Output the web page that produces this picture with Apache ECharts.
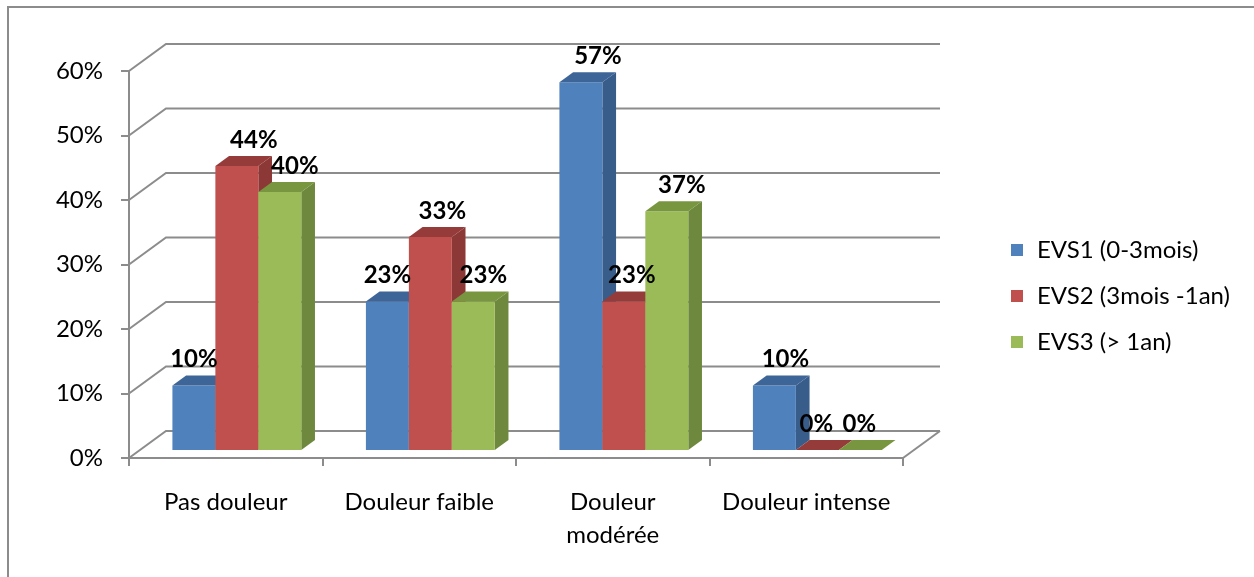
<!DOCTYPE html>
<html>
<head>
<meta charset="utf-8">
<script src="https://cdn.jsdelivr.net/npm/echarts@6/dist/echarts.min.js"></script>
<style>
  html, body { margin: 0; padding: 0; background: #ffffff; }
  #chart { width: 1254px; height: 577px; }
</style>
</head>
<body>
<div id="chart"></div>
<script>
// Pain level categories and the three follow-up periods
const categories = ['Pas douleur', 'Douleur faible', 'Douleur\nmodérée', 'Douleur intense'];
const seriesNames = ['EVS1 (0-3mois)', 'EVS2 (3mois -1an)', 'EVS3 (> 1an)'];
const evs1 = [10, 23, 57, 10];
const evs2 = [44, 33, 23, 0];
const evs3 = [40, 23, 37, 0];
const yTicks = [0, 10, 20, 30, 40, 50, 60];

const values = [evs1, evs2, evs3];

// Oblique 3D look: full depth of the floor, and the slab the columns occupy
const WALL_DX = 37, WALL_DY = -27;
const D0 = 0.30, D1 = 0.67;
const BAR_FRAC = 0.222;

const FONT = 'Lato';
const GRID_COLOR = '#8c8c8c';

// front / side / top face colours per series
const faces = [
  { front: '#4f81bd', side: '#385d8a', top: '#3e6597' },
  { front: '#c0504d', side: '#8c3836', top: '#953b39' },
  { front: '#9bbb59', side: '#6e893e', top: '#789540' }
];

// small horizontal nudges of the value labels, per series and category
const labelShift = [
  [0, 0, 17, 11],
  [17, 12, 8, -1],
  [15, 10, 15, -1]
];

function frameRenderer(params, api) {
  const cs = params.coordSys;
  const left = cs.x, right = cs.x + cs.width;
  const children = [];
  yTicks.forEach(function (v) {
    const y = api.coord([0, v])[1];
    children.push({
      type: 'polyline',
      shape: { points: [[left, y], [left + WALL_DX, y + WALL_DY], [right + WALL_DX, y + WALL_DY]] },
      style: { stroke: GRID_COLOR, lineWidth: 2, fill: null }
    });
  });
  const y0 = api.coord([0, 0])[1];
  children.push({
    type: 'line',
    shape: { x1: right, y1: y0, x2: right + WALL_DX, y2: y0 + WALL_DY },
    style: { stroke: GRID_COLOR, lineWidth: 2 }
  });
  return { type: 'group', children: children };
}

function barRenderer(k) {
  return function (params, api) {
    const cat = api.value(0), val = api.value(1);
    const base = api.coord([cat, 0]);
    const topPt = api.coord([cat, val]);
    const catW = api.size([1, 0])[0];
    const bw = catW * BAR_FRAC;
    const fx = base[0] - 1.5 * bw + k * bw + WALL_DX * D0;
    const fyBottom = base[1] + WALL_DY * D0;
    const fyTop = topPt[1] + WALL_DY * D0;
    const ddx = WALL_DX * (D1 - D0), ddy = WALL_DY * (D1 - D0);
    const c = faces[k];
    const children = [];
    if (val > 0) {
      children.push({
        type: 'polygon', z2: k * 10 + 1,
        shape: { points: [[fx + bw, fyBottom], [fx + bw + ddx, fyBottom + ddy], [fx + bw + ddx, fyTop + ddy], [fx + bw, fyTop]] },
        style: { fill: c.side }
      });
      children.push({
        type: 'rect', z2: k * 10 + 2,
        shape: { x: fx, y: fyTop, width: bw, height: fyBottom - fyTop },
        style: { fill: c.front }
      });
    }
    children.push({
      type: 'polygon', z2: k * 10 + 3,
      shape: { points: [[fx, fyTop], [fx + bw, fyTop], [fx + bw + ddx, fyTop + ddy], [fx + ddx, fyTop + ddy]] },
      style: { fill: c.top }
    });
    children.push({
      type: 'text', z2: 100,
      style: {
        text: val + '%',
        x: fx + bw / 2 + labelShift[k][cat],
        y: fyTop + ddy - 4,
        align: 'center',
        verticalAlign: 'bottom',
        fontFamily: FONT,
        fontWeight: 'bold',
        fontSize: 24,
        fill: '#000000'
      }
    });
    return { type: 'group', children: children };
  };
}

const series = [{
  name: 'frame',
  type: 'custom',
  z: 1,
  silent: true,
  renderItem: frameRenderer,
  data: [[0, 0]]
}];
values.forEach(function (arr, k) {
  series.push({
    name: seriesNames[k],
    type: 'custom',
    z: 2,
    itemStyle: { color: faces[k].front },
    renderItem: barRenderer(k),
    encode: { x: 0, y: 1 },
    data: arr.map(function (v, i) { return [i, v]; })
  });
});

const chart = echarts.init(document.getElementById('chart'), null, { renderer: 'canvas' });
chart.setOption({
  backgroundColor: '#ffffff',
  animation: false,
  graphic: [{
    type: 'rect',
    shape: { x: 8, y: 7, width: 1270, height: 620 },
    style: { fill: null, stroke: '#8c8c8c', lineWidth: 2 },
    silent: true
  }],
  legend: {
    orient: 'vertical',
    left: 1006,
    top: 233,
    icon: 'rect',
    itemWidth: 12,
    itemHeight: 12,
    itemGap: 22,
    data: seriesNames,
    selectedMode: false,
    textStyle: { fontFamily: FONT, fontSize: 24, color: '#000000', padding: [0, 0, 0, 9] }
  },
  grid: { left: 129, top: 71, width: 774, height: 387, containLabel: false },
  xAxis: {
    type: 'category',
    data: categories,
    axisLine: { lineStyle: { color: GRID_COLOR, width: 2 } },
    axisTick: { show: true, length: 8, alignWithLabel: false, lineStyle: { color: GRID_COLOR, width: 2 } },
    axisLabel: { fontFamily: FONT, fontSize: 24, color: '#000000', margin: 28, lineHeight: 33, interval: 0 },
    splitLine: { show: false }
  },
  yAxis: {
    type: 'value',
    min: 0,
    max: 60,
    interval: 10,
    axisLine: { show: true, lineStyle: { color: GRID_COLOR, width: 2 } },
    axisTick: { show: true, length: 8, lineStyle: { color: GRID_COLOR, width: 2 } },
    axisLabel: { fontFamily: FONT, fontSize: 24, color: '#000000', margin: 26, formatter: '{value}%' },
    splitLine: { show: false }
  },
  series: series
});
</script>
</body>
</html>
